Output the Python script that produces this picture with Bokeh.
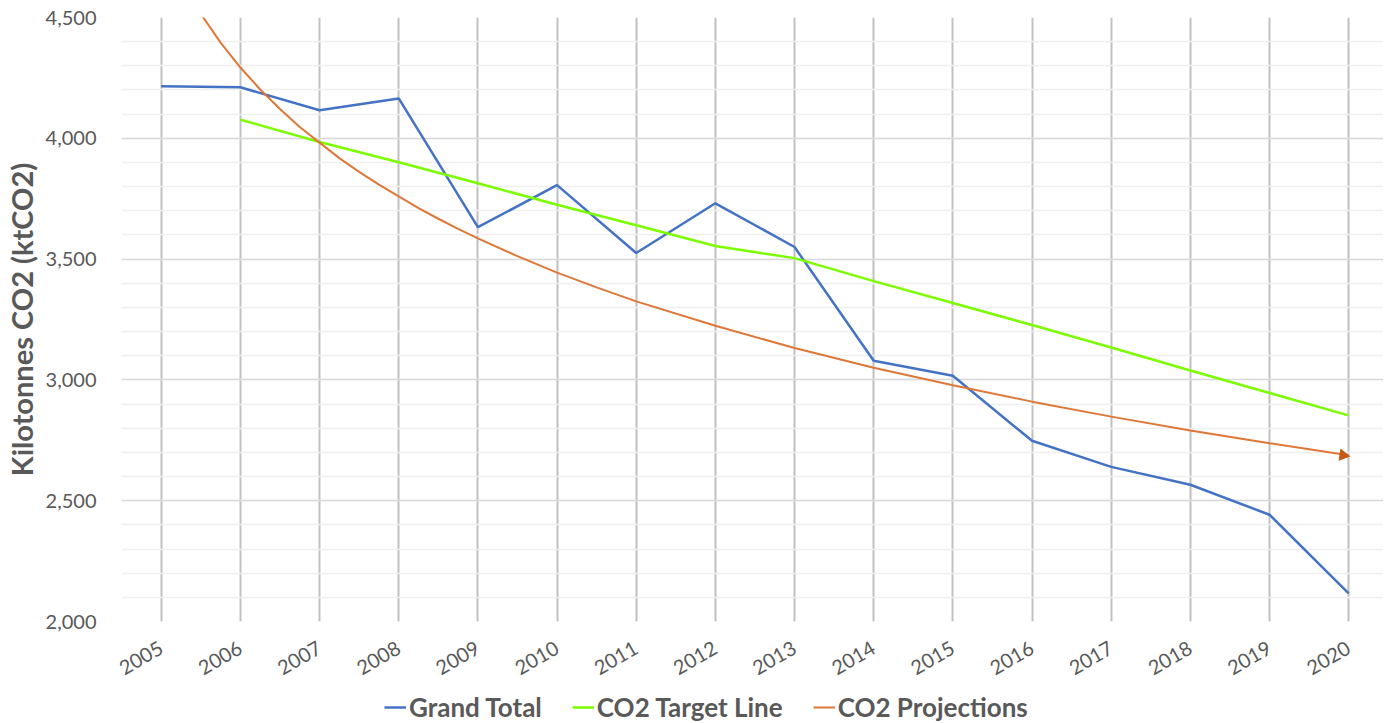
import math
from bokeh.plotting import figure
from bokeh.layouts import column
from bokeh.models import (Range1d, FixedTicker, NumeralTickFormatter, Legend, LegendItem,
                          ColumnDataSource)
from bokeh.transform import dodge
from bokeh.embed import file_html
from bokeh.resources import INLINE

# ---- data ----
years = [2005, 2006, 2007, 2008, 2009, 2010, 2011, 2012, 2013, 2014, 2015, 2016, 2017, 2018, 2019, 2020]
year_labels = [str(y) for y in years]
grand_total = [4215, 4211, 4116, 4165, 3632, 3806, 3525, 3731, 3550, 3079, 3017, 2748, 2640, 2566, 2442, 2116]

target_years = [2006, 2007, 2008, 2009, 2010, 2011, 2012, 2013, 2014, 2015, 2016, 2017, 2018, 2019, 2020]
target_vals = [4077, 3985, 3901, 3814, 3725, 3640, 3554, 3504, 3409, 3318, 3227, 3134, 3039, 2946, 2853]

proj_years = [2005.5, 2005.75, 2006, 2006.25, 2006.5, 2006.75, 2007, 2007.25, 2007.5, 2007.75,
              2008, 2008.25, 2008.5, 2008.75, 2009, 2009.5,
              2010, 2010.5, 2011, 2012, 2013, 2014, 2015, 2016, 2017, 2018, 2019, 2020]
proj_vals = [4515, 4396, 4293, 4202, 4121, 4047, 3982, 3918, 3861, 3808,
             3760, 3711, 3667, 3625, 3586, 3512,
             3444, 3383, 3325, 3224, 3132, 3050, 2978, 2910, 2848, 2791, 2738, 2688]

series_names = ["Grand Total", "CO2 Target Line", "CO2 Projections"]
series_colors = ["#4472C4", "#7CFC00", "#DE7738"]
series_widths = [2.5, 2.5, 2.0]

y_min, y_max = 2000, 4500

FONT = "Lato"
GREY = "#595959"

p = figure(width=1383, height=684, output_backend="svg", toolbar_location=None,
           x_range=Range1d(2004.498, 2020.44), y_range=Range1d(y_min, y_max),
           min_border_left=112, min_border_right=0, min_border_top=17, min_border_bottom=0)
p.outline_line_color = None
p.background_fill_color = "white"
p.border_fill_color = "white"

# grids
p.xgrid.ticker = FixedTicker(ticks=years)
p.xgrid.grid_line_color = "#c0c0c0"
p.xgrid.grid_line_width = 2
p.ygrid.ticker = FixedTicker(ticks=list(range(2000, 4501, 500)),
                             minor_ticks=list(range(2000, 4501, 100)))
p.ygrid.grid_line_color = "#d9d9d9"
p.ygrid.grid_line_width = 1.5
p.ygrid.minor_grid_line_color = "#efefef"
p.ygrid.minor_grid_line_width = 1.5

# axes
p.xaxis.ticker = FixedTicker(ticks=years)
p.xaxis.major_label_overrides = {y: l for y, l in zip(years, year_labels)}
p.xaxis.major_label_orientation = 0.52
p.xaxis.major_label_standoff = 19
p.yaxis.ticker = FixedTicker(ticks=list(range(2000, 4501, 500)))
p.yaxis.formatter = NumeralTickFormatter(format="0,0")
p.yaxis.major_label_standoff = 19
p.yaxis.axis_label = "Kilotonnes CO2 (ktCO2)"
p.yaxis.axis_label_standoff = 4
p.yaxis.axis_label_text_font = FONT
p.yaxis.axis_label_text_font_style = "bold"
p.yaxis.axis_label_text_font_size = "29px"
p.yaxis.axis_label_text_color = GREY
for ax in (p.xaxis, p.yaxis):
    ax.axis_line_color = None
    ax.major_tick_line_color = None
    ax.minor_tick_line_color = None
    ax.major_label_text_font = FONT
    ax.major_label_text_font_size = "20px"
    ax.major_label_text_color = GREY

# series
p.line(years, grand_total, line_color=series_colors[0], line_width=series_widths[0])
p.line(target_years, target_vals, line_color=series_colors[1], line_width=series_widths[1])
p.line(proj_years, proj_vals, line_color=series_colors[2], line_width=series_widths[2])
head_src = ColumnDataSource(data=dict(x=[proj_years[-1]], y=[proj_vals[-1]]))
p.scatter(x=dodge("x", -0.07, range=p.x_range), y="y", source=head_src,
          marker="triangle", size=11, angle=-math.pi / 2 - 0.15,
          fill_color="#C55A11", line_color="#C55A11")

# legend strip below the chart (its renderers hold the same series, out of its view)
lg = figure(width=1383, height=39, output_backend="svg", toolbar_location=None,
            x_range=Range1d(0, 1), y_range=Range1d(0, 1),
            min_border_left=112, min_border_right=0, min_border_top=0, min_border_bottom=0)
lg.axis.visible = False
lg.grid.visible = False
lg.outline_line_color = None
items = []
for name, xs, ys, color, w in zip(series_names, [years, target_years, proj_years],
                                  [grand_total, target_vals, proj_vals], series_colors, series_widths):
    r = lg.line(xs, ys, line_color=color, line_width=w)
    items.append(LegendItem(label=name, renderers=[r]))
legend = Legend(items=items, orientation="horizontal", location=(263, 0),
                label_text_font=FONT, label_text_font_style="bold",
                label_text_font_size="26px", label_text_color=GREY,
                glyph_width=22, label_standoff=3, spacing=30,
                border_line_color=None, background_fill_alpha=0,
                padding=0, margin=0)
lg.add_layout(legend, "center")

layout = column(p, lg, spacing=0)
open("out.html", "w").write(file_html(layout, INLINE))
